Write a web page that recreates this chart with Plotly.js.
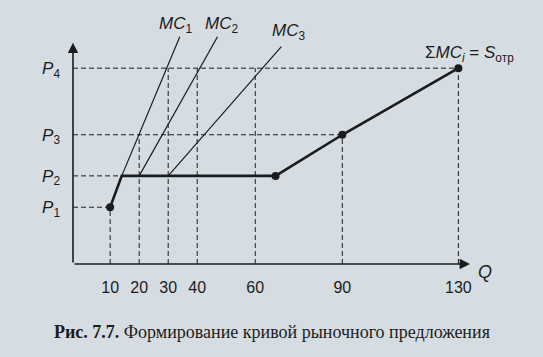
<!DOCTYPE html>
<html>
<head>
<meta charset="utf-8">
<script src="https://cdn.plot.ly/plotly-3.0.1.min.js"></script>
<style>html,body{margin:0;padding:0;background:#d6dde2;}#chart{width:543px;height:357px;}</style>
</head>
<body>
<div id="chart"></div>
<script>
// Quantity ticks on the Q axis
const qTicks = [10, 20, 30, 40, 60, 90, 130];
// Price levels P1..P4 (relative units)
const pNames = ["P1", "P2", "P3", "P4"];
const pLevels = [2.9, 4.5, 6.6, 10];
// Market supply curve (sum of MC)
const supplyQ = [10, 14, 67, 90, 130];
const supplyP = [2.9, 4.5, 4.5, 6.6, 10];
// Points marked on the supply curve
const dotQ = [10, 67, 90, 130];
const dotP = [2.9, 4.5, 6.6, 10];
// Individual marginal cost curves
const mc1Q = [14, 34];  const mc1P = [4.5, 11.6];
const mc2Q = [20, 47];  const mc2P = [4.5, 11.6];
const mc3Q = [30, 69];  const mc3P = [4.5, 11.1];
// Dashed guide lines: for each Q tick, the price level it reaches
const guideLevel = [0, 2, 3, 3, 3, 2, 3];
// Horizontal guides: each price level runs to this Q
const hGuideQ = [10, 14, 90, 130];

const X0 = -2.8, X1 = 134, Y1 = 12;
const ink = "#1c1c1c";
const sans = "Liberation Sans, Arial, sans-serif";

const traces = [];
qTicks.forEach((q, i) => {
  traces.push({x: [q, q], y: [0, pLevels[guideLevel[i]]], mode: "lines",
    line: {color: ink, width: 1, dash: "5px,3px"}, hoverinfo: "skip", showlegend: false});
});
pLevels.forEach((p, i) => {
  traces.push({x: [X0, hGuideQ[i]], y: [p, p], mode: "lines",
    line: {color: ink, width: 1, dash: "5px,3px"}, hoverinfo: "skip", showlegend: false});
});
[[mc1Q, mc1P], [mc2Q, mc2P], [mc3Q, mc3P]].forEach(([qx, py]) => {
  traces.push({x: qx, y: py, mode: "lines", line: {color: ink, width: 1.2},
    hoverinfo: "skip", showlegend: false});
});
traces.push({x: supplyQ, y: supplyP, mode: "lines", line: {color: ink, width: 2.6},
  hoverinfo: "skip", showlegend: false});
traces.push({x: dotQ, y: dotP, mode: "markers", marker: {color: ink, size: 8},
  hoverinfo: "skip", showlegend: false, cliponaxis: false});

function label(text, x, y, size) {
  return {x: x, y: y, xref: "paper", yref: "paper", xanchor: "center", yanchor: "middle",
    text: text, showarrow: false, font: {family: sans, size: size, color: ink}};
}

const layout = {
  width: 543, height: 357,
  margin: {l: 73, r: 73, t: 29, b: 93},
  paper_bgcolor: "#d6dde2", plot_bgcolor: "rgba(0,0,0,0)",
  xaxis: {range: [X0, X1], showgrid: false, zeroline: false, showline: false,
    tickvals: qTicks, ticktext: qTicks.map(String), ticks: "",
    tickfont: {family: sans, size: 16, color: ink}, ticklabelstandoff: 12, fixedrange: true},
  yaxis: {range: [0, Y1], showgrid: false, zeroline: false, showline: false,
    tickvals: pLevels, ticktext: pNames.map(n => "<i>P</i><sub>" + n.slice(1) + "</sub>"),
    ticks: "", tickfont: {family: sans, size: 17, color: ink}, ticklabelstandoff: 12, fixedrange: true},
  annotations: [
    {x: X1, y: 0, ax: X0, ay: 0, xref: "x", yref: "y", axref: "x", ayref: "y", text: "",
      showarrow: true, arrowhead: 2, arrowsize: 1.3, arrowwidth: 1.6, arrowcolor: ink},
    {x: X0, y: 11.3, ax: X0, ay: 0, xref: "x", yref: "y", axref: "x", ayref: "y", text: "",
      showarrow: true, arrowhead: 2, arrowsize: 1.3, arrowwidth: 1.6, arrowcolor: ink},
    label("<i>Q</i>", 1.038, -0.034, 18),
    label("<i>MC</i><sub>1</sub>", 0.259, 1.017, 17),
    label("<i>MC</i><sub>2</sub>", 0.373, 1.017, 17),
    label("<i>MC</i><sub>3</sub>", 0.544, 0.987, 17),
    label("Σ<i>MC<sub>i</sub></i> = <i>S</i><sub>отр</sub>", 0.998, 0.895, 17),
    {x: 0.501, y: -0.289, xref: "paper", yref: "paper", xanchor: "center", yanchor: "middle",
      text: "<b>Рис. 7.7.</b> Формирование кривой рыночного предложения", showarrow: false,
      font: {family: "Liberation Serif, Times New Roman, serif", size: 18, color: ink}}
  ]
};
Plotly.newPlot("chart", traces, layout, {displayModeBar: false, staticPlot: true});
</script>
</body>
</html>
